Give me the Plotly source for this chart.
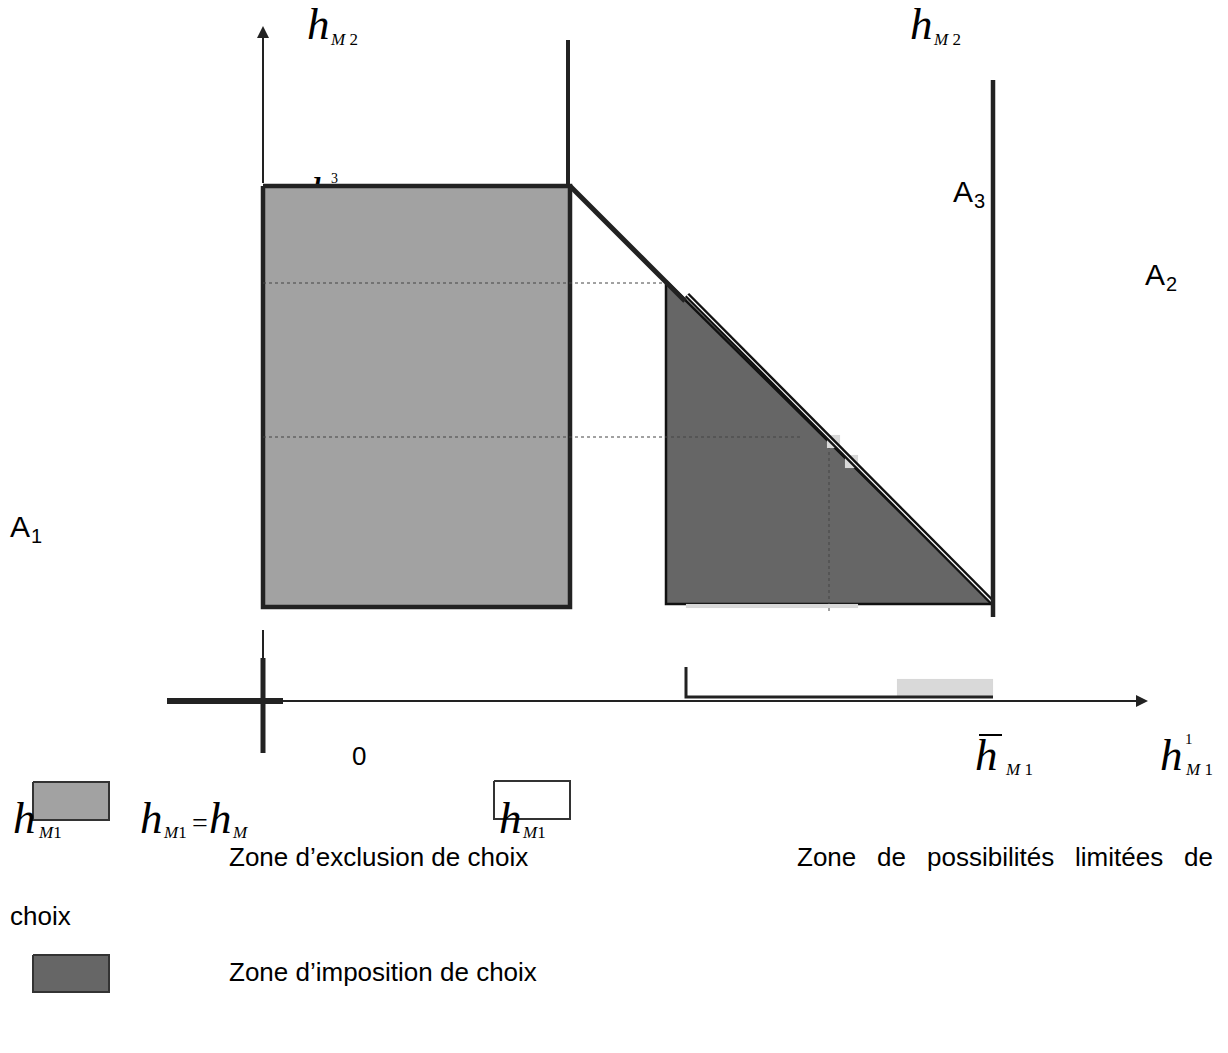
import plotly.graph_objects as go

# ---------------- diagram data (canvas units, y grows downward) ----------------
# Zone d'exclusion de choix (light grey rectangle)
excl_x = [263, 570, 570, 263, 263]
excl_y = [186, 186, 607, 607, 186]
# Zone d'imposition de choix (dark triangle)
impo_x = [666, 666, 993, 666]
impo_y = [281, 604, 604, 281]
# budget line: upper thick part and lower double part
diag_upper_x = [570, 685]
diag_upper_y = [186, 301]
diag_lower_x = [687, 993]
diag_lower_y = [295, 603]
# thin guide lines
guide1_x = [263, 666]
guide1_y = [283, 283]
guide2_x = [263, 803]
guide2_y = [437, 437]
guide3_x = [829, 829]
guide3_y = [440, 612]
# vertical bounds
bound_left_x = [568, 568]
bound_left_y = [40, 186]
bound_right_x = [993, 993]
bound_right_y = [80, 617]
# axes
yaxis_line_x = [263, 263]
yaxis_line_y = [183, 30]
yaxis_low_thin_y = [630, 659]
yaxis_low_thick_y = [658, 753]
xaxis_thick_x = [167, 283]
xaxis_line_x = [283, 1140]
xaxis_y = 701
# small L mark and segment on the x axis
lmark_x = [686, 686, 993]
lmark_y = [667, 697, 697]
# light grey patches
patch_axis = (897, 993, 679, 697)
patch_sq1 = (827, 840, 435, 448)
patch_sq2 = (845, 858, 455, 468)
patch_strip = (686, 858, 604, 608)
# legend swatches
leg_grey = (33, 109, 782, 820)
leg_white = (494, 570, 781, 819)
leg_dark = (33, 109, 955, 992)

DARK = "#222222"
SERIF = "Liberation Serif, Times New Roman, serif"
SANS = "Liberation Sans, Arial, sans-serif"

fig = go.Figure()


def rect_xy(r):
    x0, x1, y0, y1 = r
    return [x0, x1, x1, x0, x0], [y0, y0, y1, y1, y0]


def line(x, y, w, color=DARK, dash=None):
    fig.add_trace(go.Scatter(x=x, y=y, mode="lines",
                             line=dict(color=color, width=w, dash=dash),
                             hoverinfo="skip", showlegend=False))


def poly(x, y, fill, lc=DARK, lw=0):
    fig.add_trace(go.Scatter(x=x, y=y, mode="lines", fill="toself", fillcolor=fill,
                             line=dict(color=lc if lw else fill, width=lw if lw else 0.1),
                             hoverinfo="skip", showlegend=False))


def text(x, baseline, s, size, family=SANS, color="#000000"):
    fig.add_trace(go.Scatter(x=[x], y=[baseline - 0.35 * size], mode="text", text=[s],
                             textposition="middle right",
                             textfont=dict(family=family, size=size, color=color),
                             hoverinfo="skip", showlegend=False))


# hidden labels (behind rectangles)
text(310, 212, "<i>h</i>", 44, SERIF)
text(331, 184, "3", 14, SERIF)
text(40, 822, "2", 12, SERIF)

# exclusion zone
poly(excl_x, excl_y, "#a2a2a2", DARK, 4.5)
line(guide1_x, guide1_y, 1, "#444444", "dot")

# imposition zone
poly(impo_x, impo_y, "#666666", "#111111", 2.5)
line(guide2_x, guide2_y, 1, "#444444", "dot")
line(guide3_x, guide3_y, 1, "#444444", "dot")

# light patches
for r in (patch_sq1, patch_sq2, patch_strip):
    px, py = rect_xy(r)
    poly(px, py, "#d9d9d9")
line(diag_lower_x, diag_lower_y, 6, "#111111")
line(diag_lower_x, diag_lower_y, 1.2, "#ffffff")

# bounds
line(bound_left_x, bound_left_y, 4, DARK)
line(bound_right_x, bound_right_y, 4.5, DARK)
line(diag_upper_x, diag_upper_y, 5, DARK)

# axes
px, py = rect_xy(patch_axis)
poly(px, py, "#d9d9d9")
line(yaxis_line_x, yaxis_line_y, 2, DARK)
line(yaxis_line_x, yaxis_low_thin_y, 2, DARK)
line(yaxis_line_x, yaxis_low_thick_y, 5, DARK)
line(xaxis_thick_x, [xaxis_y, xaxis_y], 6, DARK)
line(lmark_x, lmark_y, 3, DARK)
line(xaxis_line_x, [xaxis_y, xaxis_y], 2, DARK)

# legend swatches
px, py = rect_xy(leg_grey)
poly(px, py, "#a2a2a2", "#333333", 2)
px, py = rect_xy(leg_white)
poly(px, py, "#ffffff", "#333333", 2)
px, py = rect_xy(leg_dark)
poly(px, py, "#666666", "#333333", 2)

# ---------- labels ----------
# h_M2 (two)
for hx in (307, 910):
    text(hx, 43, "<i>h</i>", 45, SERIF)
    text(hx + 24, 47, "<i>M</i> 2", 17, SERIF)
# A labels
text(953, 205, "A", 30)
text(974, 210, "3", 20)
text(1145, 288, "A", 30)
text(1166, 293, "2", 20)
text(10, 540, "A", 30)
text(31, 545, "1", 20)
# origin
text(352, 768, "0", 26)
# h bar M1
text(975, 774, "<i>h</i>", 45, SERIF)
line([979, 1002], [735, 735], 2, "#000000")
text(1006, 777, "<i>M</i> 1", 17, SERIF)
# h^1_M1
text(1160, 774, "<i>h</i>", 45, SERIF)
text(1185, 745, "1", 15, SERIF)
text(1186, 777, "<i>M</i> 1", 17, SERIF)
# legend math labels
text(13, 837, "<i>h</i>", 45, SERIF)
text(39, 840, "<i>M</i>1", 17, SERIF)
text(140, 837, "<i>h</i>", 45, SERIF)
text(164, 840, "<i>M</i>1", 17, SERIF)
text(192, 835, "=", 28, SERIF)
text(209, 837, "<i>h</i>", 45, SERIF)
text(233, 840, "<i>M</i>", 17, SERIF)
text(499, 837, "<i>h</i>", 45, SERIF)
text(523, 840, "<i>M</i>1", 17, SERIF)

# zone captions
text(229, 869, "Zone d’exclusion de choix", 26)
for wx, w in ((797, "Zone"), (877, "de"), (927, "possibilités"), (1075, "limitées"), (1184, "de")):
    text(wx, 869, w, 26)
text(10, 928, "choix", 26)
text(229, 984, "Zone d’imposition de choix", 26)

# arrows
fig.add_annotation(x=263, y=26, ax=263, ay=60, xref="x", yref="y", axref="x", ayref="y",
                   text="", showarrow=True, arrowhead=2, arrowsize=1.2, arrowwidth=2,
                   arrowcolor=DARK, standoff=0, startstandoff=0)
fig.add_annotation(x=1148, y=xaxis_y, ax=1100, ay=xaxis_y, xref="x", yref="y", axref="x", ayref="y",
                   text="", showarrow=True, arrowhead=2, arrowsize=1.2, arrowwidth=2,
                   arrowcolor=DARK, standoff=0, startstandoff=0)

fig.update_layout(
    width=1228, height=1053, autosize=False,
    margin=dict(l=0, r=0, t=0, b=0, pad=0),
    paper_bgcolor="white", plot_bgcolor="white",
    xaxis=dict(range=[0, 1228], visible=False, fixedrange=True),
    yaxis=dict(range=[1053, 0], visible=False, fixedrange=True),
    showlegend=False, hovermode=False,
)

fig.write_html("out.html", config={"staticPlot": True, "displayModeBar": False},
               post_script="document.body.style.margin='0';document.body.style.overflow='hidden';")
